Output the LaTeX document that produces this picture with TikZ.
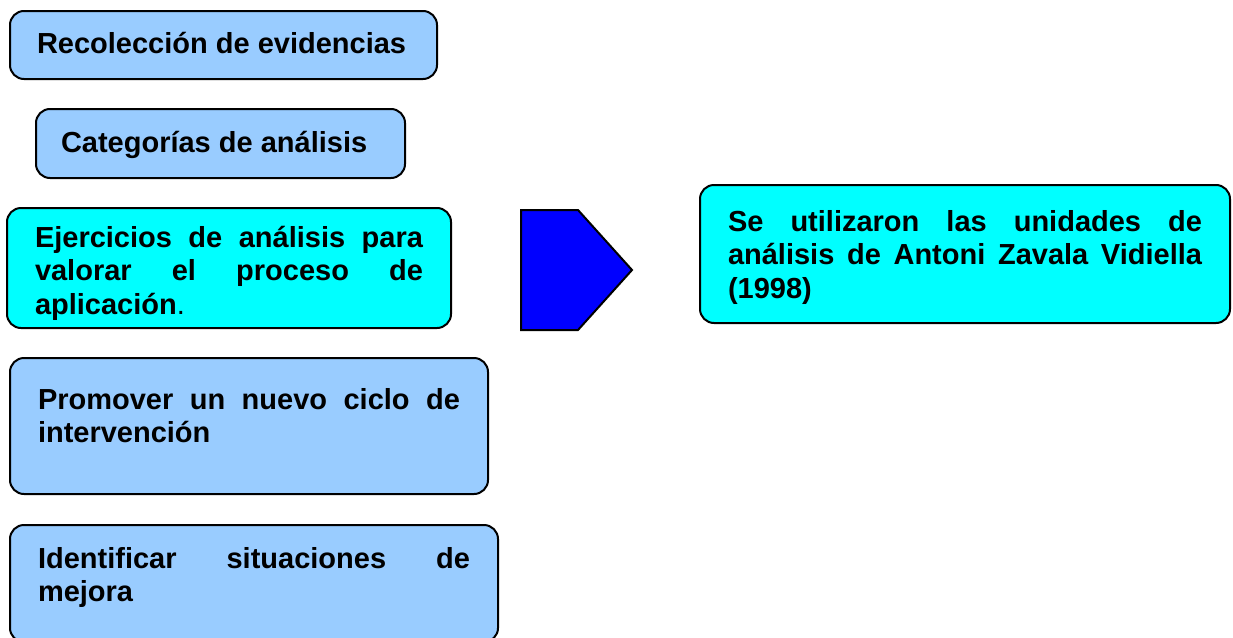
\documentclass[tikz,border=0pt]{standalone}
\usepackage{fontspec}
\setmainfont{Liberation Sans}
\hyphenpenalty=10000
\exhyphenpenalty=10000
\definecolor{celeste}{HTML}{99CCFF}
\definecolor{cian}{HTML}{00FFFF}
\begin{document}
\begin{tikzpicture}[x=1pt, y=-1pt,
    caja/.style={draw, line width=2pt, rounded corners=14pt, anchor=north west,
        align=justify, inner ysep=0pt, inner xsep=28pt, outer sep=0pt,
        font=\fontsize{29}{33.5}\selectfont\bfseries},
    clara/.style={caja, fill=celeste},
    viva/.style={caja, fill=cian}]
    \useasboundingbox (0,0) rectangle (1233,637);

    \node[clara, inner xsep=27pt, text width=373pt, text height=42pt, text depth=26pt] (recol) at (10,11)
    {Recolección de evidencias};
    \node[clara, inner xsep=25pt, text width=319pt, text height=43pt, text depth=26pt] (categ) at (36,109)
    {Categorías de análisis};
    \node[viva, text width=388pt, text height=39pt, text depth=81pt] (ejerc) at (7,208)
    {Ejercicios de análisis para\linebreak valorar el proceso de\linebreak aplicación{\mdseries .}};
    \node[clara, text width=422pt, text height=51pt, text depth=85pt] (promo) at (10,358)
    {Promover un nuevo ciclo de\linebreak intervención};
    \node[clara, text width=432pt, text height=43pt, text depth=74pt] (ident) at (10,525)
    {Identificar situaciones de\linebreak mejora};

    \node[viva, text width=474pt, text height=46pt, text depth=92pt] (zaval) at (700,185)
    {Se utilizaron las unidades de\linebreak análisis de Antoni Zavala Vidiella\linebreak (1998)};

    % flecha
    \draw[line width=2pt, fill=blue] (521,210) -- (578,210) -- (632,270) -- (578,330) -- (521,330) -- cycle;
\end{tikzpicture}
\end{document}
